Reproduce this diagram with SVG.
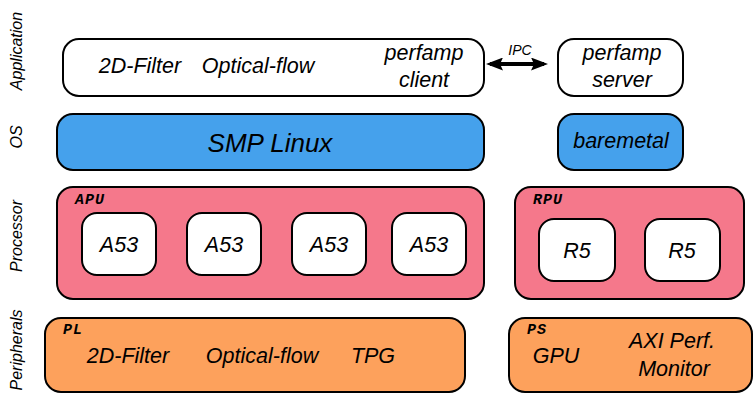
<svg xmlns="http://www.w3.org/2000/svg" width="753" height="394" viewBox="0 0 753 394">
<defs>
<style>
.box{stroke:#000;stroke-width:2}
.app{fill:#fff}
.os{fill:#45A1EC}
.proc{fill:#F5788B}
.core{fill:#fff}
.per{fill:#FDA15C}
text{font-family:"Liberation Sans",Arial,sans-serif;font-style:italic;fill:#000}
.t{font-size:21.5px;text-anchor:middle}
.side{font-size:16px;text-anchor:middle}
.tag{font-family:"Liberation Mono","Courier New",monospace;font-size:15px;font-style:italic;font-weight:bold;letter-spacing:1px}
</style>
<marker id="ah" viewBox="0 0 17 13" refX="13" refY="6.5" markerWidth="17" markerHeight="13" orient="auto-start-reverse" markerUnits="userSpaceOnUse">
<path d="M0,0 L17,6.5 L0,13 L3,6.5 z" fill="#000"/>
</marker>
</defs>
<g id="side-labels">
<text class="side" transform="translate(22,51) rotate(-90)">Application</text>
<text class="side" transform="translate(22,137) rotate(-90)">OS</text>
<text class="side" transform="translate(22,236) rotate(-90)">Processor</text>
<text class="side" transform="translate(22,350) rotate(-90)">Peripherals</text>
</g>
<g id="app">
<rect class="box app" x="63" y="39" width="421" height="57" rx="16"/>
<text class="t" x="140" y="73">2D-Filter</text>
<text class="t" x="258" y="73">Optical-flow</text>
<text class="t" x="424" y="60">perfamp</text>
<text class="t" x="424" y="87">client</text>
</g>
<g id="perfamp-server">
<rect class="box app" x="558" y="39" width="125" height="57" rx="16"/>
<text class="t" x="622" y="60">perfamp</text>
<text class="t" x="622" y="87">server</text>
</g>
<g id="smp-linux">
<rect class="box os" x="57" y="114" width="427" height="56" rx="16"/>
<text class="t" x="270" y="152" style="font-size:26px">SMP Linux</text>
</g>
<g id="baremetal">
<rect class="box os" x="558" y="114" width="125" height="56" rx="16"/>
<text class="t" x="621" y="148">baremetal</text>
</g>
<g id="apu">
<rect class="box proc" x="57" y="187" width="427" height="112" rx="16"/>
<text class="tag" x="75" y="204">APU</text>
</g>
<g id="a53-1"><rect class="box core" x="82" y="213" width="74" height="62" rx="15"/><text class="t" x="119" y="252">A53</text></g>
<g id="a53-2"><rect class="box core" x="187" y="213" width="74" height="62" rx="15"/><text class="t" x="224" y="252">A53</text></g>
<g id="a53-3"><rect class="box core" x="292" y="213" width="74" height="62" rx="15"/><text class="t" x="329" y="252">A53</text></g>
<g id="a53-4"><rect class="box core" x="392" y="213" width="74" height="62" rx="15"/><text class="t" x="429" y="252">A53</text></g>
<g id="rpu">
<rect class="box proc" x="515" y="187" width="229" height="112" rx="16"/>
<text class="tag" x="533" y="204">RPU</text>
</g>
<g id="r5-1"><rect class="box core" x="539" y="219" width="76" height="62" rx="15"/><text class="t" x="577" y="258">R5</text></g>
<g id="r5-2"><rect class="box core" x="645" y="219" width="75" height="62" rx="15"/><text class="t" x="682" y="258">R5</text></g>
<g id="pl">
<rect class="box per" x="45" y="318" width="420" height="74" rx="16"/>
<text class="tag" x="63" y="334">PL</text>
<text class="t" x="128" y="363">2D-Filter</text>
<text class="t" x="262" y="363">Optical-flow</text>
<text class="t" x="373" y="363">TPG</text>
</g>
<g id="ps">
<rect class="box per" x="509" y="318" width="243" height="74" rx="16"/>
<text class="tag" x="527" y="334">PS</text>
<text class="t" x="556" y="363">GPU</text>
<text class="t" x="672" y="348">AXI Perf.</text>
<text class="t" x="674" y="376">Monitor</text>
</g>
<g id="connectors">
<line x1="490" y1="64" x2="544" y2="64" stroke="#000" stroke-width="4" marker-start="url(#ah)" marker-end="url(#ah)"/>
<text x="520" y="55" style="font-size:14px;text-anchor:middle">IPC</text>
</g>
</svg>
